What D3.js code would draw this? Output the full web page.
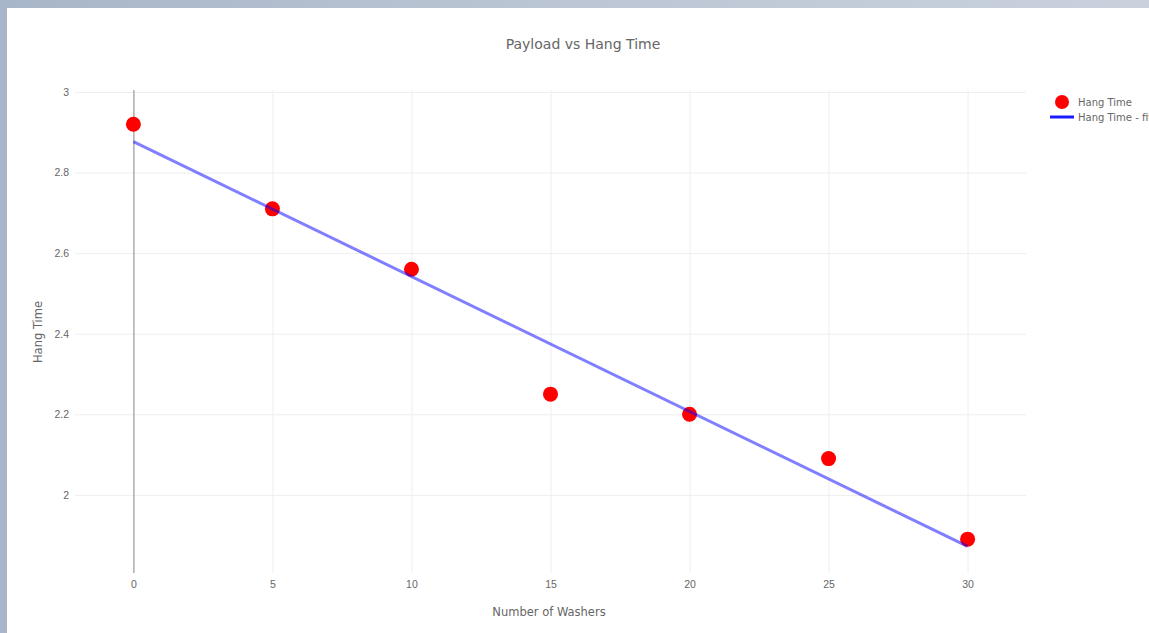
<!DOCTYPE html>
<html>
<head>
<meta charset="utf-8">
<script src="https://cdn.jsdelivr.net/npm/d3@7"></script>
<style>
  html, body { margin: 0; padding: 0; }
  body { width: 1149px; height: 633px; overflow: hidden;
         background: linear-gradient(90deg, #a8b6c9 0%, #bcc6d4 50%, #c9d1dd 100%); }
  svg { display: block; font-family: "DejaVu Sans", Verdana, sans-serif; }
</style>
</head>
<body>
<svg id="chart" width="1149" height="633"></svg>
<script>
const washers = [0, 5, 10, 15, 20, 25, 30];
const hangTime = [2.92, 2.71, 2.56, 2.25, 2.20, 2.09, 1.89];
const fitX = [0, 30];
const fitY = [2.877, 1.872];
const xTicks = [0, 5, 10, 15, 20, 25, 30];
const yTicks = [2, 2.2, 2.4, 2.6, 2.8, 3];
const title = "Payload vs Hang Time";
const xTitle = "Number of Washers";
const yTitle = "Hang Time";
const legendNames = ["Hang Time", "Hang Time - fit"];

const svg = d3.select("#chart");
// white panel
svg.append("rect").attr("x", 7).attr("y", 8).attr("width", 1142).attr("height", 625).attr("fill", "#fff");

const plot = { left: 75, right: 1026, top: 90, bottom: 573 };
const x = d3.scaleLinear().domain([-2.1, 32.1]).range([plot.left, plot.right]);
const y = d3.scaleLinear().domain([1.806, 3.005]).range([plot.bottom, plot.top]);

// horizontal gridlines
const gy = svg.append("g").attr("transform", `translate(${plot.left},0)`)
  .call(d3.axisLeft(y).tickValues(yTicks).tickSize(-(plot.right - plot.left)).tickFormat(d3.format("")).tickPadding(6));
gy.select(".domain").remove();
gy.selectAll(".tick line").attr("stroke", "#eeeeee").attr("stroke-width", 1);
gy.selectAll(".tick text").attr("fill", "#666").attr("font-size", 10.5);

// vertical gridlines
const gx = svg.append("g").attr("transform", `translate(0,${plot.bottom})`)
  .call(d3.axisBottom(x).tickValues(xTicks).tickSize(-(plot.bottom - plot.top)).tickPadding(8));
gx.select(".domain").remove();
gx.selectAll(".tick line").attr("stroke", d => d === 0 ? "#a0a0a0" : "#eeeeee")
  .attr("stroke-width", d => d === 0 ? 1.3 : 1);
gx.selectAll(".tick text").attr("fill", "#666").attr("font-size", 10.5);

// markers
svg.append("g").selectAll("circle").data(washers).join("circle")
  .attr("cx", (d) => x(d)).attr("cy", (d, i) => y(hangTime[i]))
  .attr("r", 7.5).attr("fill", "#ff0000");

// fit line
const line = d3.line().x(d => x(d[0])).y(d => y(d[1]));
svg.append("path").datum(fitX.map((v, i) => [v, fitY[i]]))
  .attr("d", line).attr("fill", "none").attr("stroke", "#0000ff")
  .attr("stroke-opacity", 0.5).attr("stroke-width", 3);

// title
svg.append("text").attr("x", 583).attr("y", 49).attr("text-anchor", "middle")
  .attr("fill", "#666").attr("font-size", 14).text(title);
// axis titles
svg.append("text").attr("x", 549).attr("y", 616).attr("text-anchor", "middle")
  .attr("fill", "#666").attr("font-size", 11.5).text(xTitle);
svg.append("text").attr("transform", "translate(42,332) rotate(-90)").attr("text-anchor", "middle")
  .attr("fill", "#666").attr("font-size", 11.5).text(yTitle);

// legend
const lg = svg.append("g");
lg.append("circle").attr("cx", 1062).attr("cy", 102).attr("r", 7).attr("fill", "#ff0000");
lg.append("text").attr("x", 1078).attr("y", 106).attr("fill", "#666").attr("font-size", 10).text(legendNames[0]);
lg.append("line").attr("x1", 1050).attr("x2", 1074).attr("y1", 117).attr("y2", 117)
  .attr("stroke", "#1a1aff").attr("stroke-width", 3);
lg.append("text").attr("x", 1078).attr("y", 121).attr("fill", "#666").attr("font-size", 10).text(legendNames[1]);
</script>
</body>
</html>
